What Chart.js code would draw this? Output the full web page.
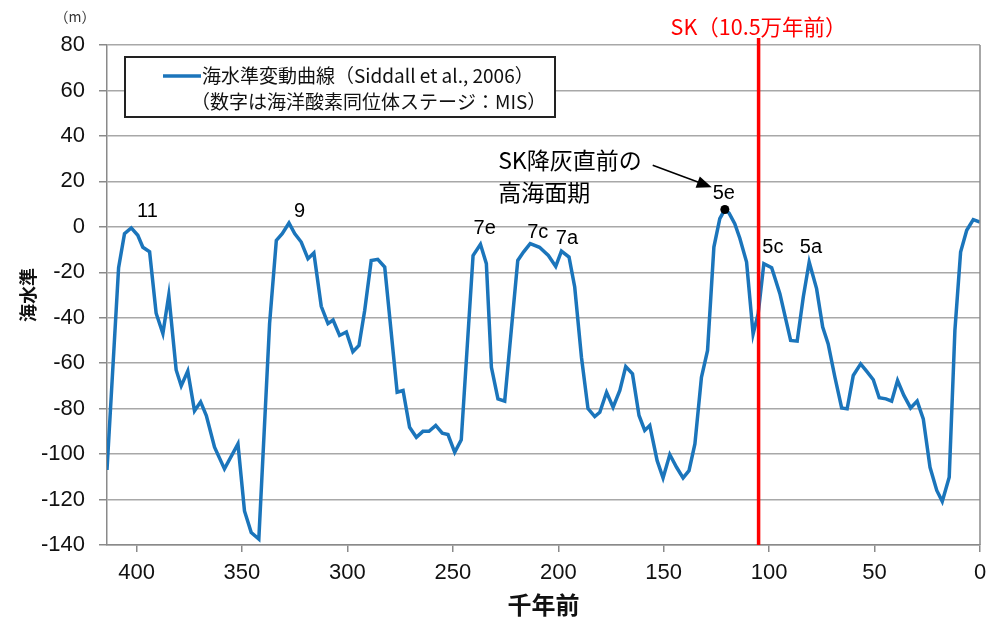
<!DOCTYPE html>
<html>
<head>
<meta charset="utf-8">
<script src="https://cdn.jsdelivr.net/npm/chart.js@4.4.1/dist/chart.umd.min.js"></script>
<style>
  html, body { margin: 0; padding: 0; background: #fff; }
  canvas { display: block; }
</style>
</head>
<body>
<canvas id="chart" width="1000" height="621"></canvas>
<script>
// Sea-level curve (Siddall et al., 2006): age in thousand years before present, level in metres
const ages = [
  414, 408.5, 405.7, 402.5, 399.4, 397, 393.8, 390.7, 387.5, 384.7,
  381.2, 378.8, 375.7, 372.5, 369.6, 366.9, 363, 358.3, 351.9, 348.8,
  345.6, 342, 336.9, 333.7, 330.9, 327.7, 325, 321.9, 318.7, 315.9,
  312.4, 309.2, 306.8, 303.7, 300.5, 297.4, 294.5, 291.8, 288.7, 285.6,
  282.3, 276.4, 273.6, 270.5, 267.3, 264.2, 261.3, 258.1, 255, 252.3,
  249.1, 246, 240.4, 236.9, 234.1, 231.7, 228.6, 225.4, 219.2, 216.5,
  213.3, 208.9, 204.7, 201.2, 198.5, 194.9, 192.2, 189, 185.9, 182.7,
  180.3, 177.1, 174, 170.8, 168, 164.8, 161.7, 159, 156.6, 153.1,
  150.3, 147.1, 143.9, 140.8, 138, 135.2, 132.1, 129.2, 126.2, 123.4,
  121, 119, 116.3, 113.9, 110.7, 107.6, 105.2, 102.5, 98.8, 94.9,
  89.8, 86.7, 83.8, 81, 77.5, 74.6, 72, 68.8, 65.6, 63,
  60.1, 56.6, 53.8, 50.6, 47.8, 44.6, 41.9, 39.1, 36.1, 32.9,
  29.8, 26.9, 23.7, 20.5, 17.9, 14.6, 11.9, 9.2, 6.3, 3.2,
  0
];
const levels = [
  -107, -18, -3, -0.5, -3.7, -9, -11, -38, -47, -30,
  -63, -70, -63.5, -81, -77, -83, -97, -106.5, -95.5, -125,
  -134.5, -137.4, -42.6, -6, -3, 1.7, -3, -6.7, -14, -11.5,
  -35, -42.6, -41, -47.8, -46.3, -55, -52.2, -36.8, -14.8, -14.3,
  -17.7, -72.8, -72, -88.2, -92.6, -90, -90, -87.4, -90.8, -91.4,
  -99.2, -93.7, -12.6, -7.7, -16.2, -61.8, -75.7, -76.7, -14.8, -11.1,
  -7.4, -9, -12.6, -17.4, -10.7, -13.3, -26.5, -57.4, -80, -83.5,
  -81.6, -72.8, -79.4, -72, -61.5, -64.7, -83, -89.6, -87.4, -102.9,
  -110.5, -100.2, -105.8, -110.5, -107.3, -95.5, -66.2, -54.4, -8.9, 3.6,
  7.6, 6, 1.4, -5, -15.5, -47.2, -38.2, -16.2, -18, -29.4,
  -50, -50.3, -30.9, -15.5, -27.2, -44.1, -51.5, -66.2, -79.7, -80.1,
  -65.4, -60.3, -63.5, -67.3, -75.2, -75.7, -76.7, -67.6, -74.2, -79.7,
  -76.7, -84.5, -105.8, -116, -120.8, -110.2, -45.6, -11.1, -1.5, 3.2,
  2.1
];

// Axis ticks
const xTickValues = [400, 350, 300, 250, 200, 150, 100, 50, 0];
const yTickValues = [80, 60, 40, 20, 0, -20, -40, -60, -80, -100, -120, -140];

// Marine isotope stage labels and where they sit (age, level)
const stageNames = ['11', '9', '7e', '7c', '7a', '5e', '5c', '5a'];
const stageLabelAges = [394.8, 322.7, 234.9, 209.7, 195.9, 121.5, 98.2, 80.2];
const stageLabelLevels = [6.8, 6.8, -0.7, -2.4, -5, 14.8, -9, -9];

// SK tephra age (thousand years ago) and the high-stand marked just before it
const skAge = 105;
const highStandAge = 121;

const LINE_BLUE = '#1b75bb';
const GRID = '#a8a8a8';
const AXIS = '#8a8a8a';
const JP = '"Noto Sans CJK JP", "Noto Sans", sans-serif';
const NUM = '"Liberation Sans", Arial, sans-serif';

const overlay = {
  id: 'overlay',
  afterDatasetsDraw(chart) {
    const { ctx, chartArea: a, scales: { x, y } } = chart;
    ctx.save();

    // right edge of the plot frame
    ctx.strokeStyle = AXIS;
    ctx.lineWidth = 1.5;
    ctx.beginPath();
    ctx.moveTo(a.right, a.top);
    ctx.lineTo(a.right, a.bottom);
    ctx.stroke();

    // unit label
    ctx.fillStyle = '#333';
    ctx.font = '14px ' + JP;
    ctx.textAlign = 'center';
    ctx.textBaseline = 'middle';
    ctx.fillText('（m）', 75, 17);

    // legend box
    const lx = a.left + 18, ly = a.top + 12, lw = 430, lh = 60;
    ctx.fillStyle = '#fff';
    ctx.fillRect(lx, ly, lw, lh);
    ctx.strokeStyle = '#222';
    ctx.lineWidth = 2;
    ctx.strokeRect(lx, ly, lw, lh);
    ctx.strokeStyle = LINE_BLUE;
    ctx.lineWidth = 3.5;
    ctx.beginPath();
    ctx.moveTo(lx + 38, ly + 19);
    ctx.lineTo(lx + 76, ly + 19);
    ctx.stroke();
    ctx.fillStyle = '#111';
    ctx.font = '19px ' + JP;
    ctx.textAlign = 'left';
    ctx.fillText('海水準変動曲線（Siddall et al., 2006）', lx + 77, ly + 19);
    ctx.fillText('（数字は海洋酸素同位体ステージ：MIS）', lx + 66, ly + 45);

    // stage labels
    ctx.fillStyle = '#000';
    ctx.font = '20px ' + NUM;
    ctx.textAlign = 'center';
    stageNames.forEach((name, i) => {
      ctx.fillText(name, x.getPixelForValue(stageLabelAges[i]), y.getPixelForValue(stageLabelLevels[i]));
    });

    // dot on the last-interglacial high stand
    const hi = ages.indexOf(highStandAge);
    ctx.beginPath();
    ctx.arc(x.getPixelForValue(ages[hi]), y.getPixelForValue(levels[hi]), 4.5, 0, Math.PI * 2);
    ctx.fill();

    // callout text and arrow
    ctx.font = '23px ' + JP;
    ctx.textAlign = 'left';
    ctx.fillText('SK降灰直前の', x.getPixelForValue(228.5), y.getPixelForValue(29.3));
    ctx.fillText('高海面期', x.getPixelForValue(228.5), y.getPixelForValue(15.2));
    const tx0 = x.getPixelForValue(155.2), ty0 = y.getPixelForValue(27.1);
    const tx1 = x.getPixelForValue(127.2), ty1 = y.getPixelForValue(17.4);
    const ang = Math.atan2(ty1 - ty0, tx1 - tx0);
    ctx.strokeStyle = '#000';
    ctx.lineWidth = 1.5;
    ctx.beginPath();
    ctx.moveTo(tx0, ty0);
    ctx.lineTo(tx1 - 12 * Math.cos(ang), ty1 - 12 * Math.sin(ang));
    ctx.stroke();
    ctx.beginPath();
    ctx.moveTo(tx1, ty1);
    ctx.lineTo(tx1 - 15 * Math.cos(ang) + 6 * Math.sin(ang), ty1 - 15 * Math.sin(ang) - 6 * Math.cos(ang));
    ctx.lineTo(tx1 - 15 * Math.cos(ang) - 6 * Math.sin(ang), ty1 - 15 * Math.sin(ang) + 6 * Math.cos(ang));
    ctx.closePath();
    ctx.fill();

    // SK tephra line
    const sx = x.getPixelForValue(skAge);
    ctx.strokeStyle = '#ff0000';
    ctx.lineWidth = 3.5;
    ctx.beginPath();
    ctx.moveTo(sx, a.top - 7);
    ctx.lineTo(sx, a.bottom);
    ctx.stroke();
    ctx.fillStyle = '#ff0000';
    ctx.font = '21.5px ' + JP;
    ctx.textAlign = 'center';
    ctx.fillText('SK（10.5万年前）', sx, 27);

    ctx.restore();
  }
};

new Chart(document.getElementById('chart'), {
  type: 'line',
  data: {
    datasets: [{
      label: '海水準変動曲線（Siddall et al., 2006）',
      data: ages.map((a, i) => ({ x: a, y: levels[i] })),
      borderColor: LINE_BLUE,
      borderWidth: 3.5,
      pointRadius: 0,
      tension: 0,
      fill: false
    }]
  },
  options: {
    responsive: false,
    animation: false,
    layout: { padding: { left: 0, right: 20, top: 45, bottom: 0 } },
    plugins: { legend: { display: false }, tooltip: { enabled: false } },
    scales: {
      x: {
        type: 'linear',
        reverse: true,
        min: 0,
        max: 414,
        afterBuildTicks: s => { s.ticks = xTickValues.map(v => ({ value: v })); },
        afterFit: s => { s.height = 76; },
        grid: { drawOnChartArea: false, drawTicks: true, tickLength: 7, color: AXIS, lineWidth: 1.5 },
        border: { display: true, color: AXIS, width: 1.5 },
        ticks: { font: { family: NUM, size: 22 }, color: '#111', padding: 8, maxRotation: 0 },
        title: { display: true, text: '千年前', font: { family: JP, size: 24, weight: 'bold' }, color: '#111', padding: { top: 0, bottom: 2 } }
      },
      y: {
        min: -140,
        max: 80,
        afterBuildTicks: s => { s.ticks = yTickValues.map(v => ({ value: v })); },
        afterFit: s => { s.width = 107; },
        grid: { color: GRID, lineWidth: 1.5, tickColor: AXIS, tickLength: 8 },
        border: { display: true, color: AXIS, width: 1.5 },
        ticks: { font: { family: NUM, size: 22 }, color: '#111', padding: 14 },
        title: { display: true, text: '海水準', font: { family: JP, size: 18, weight: 'bold' }, color: '#111', padding: { top: 17, bottom: 0 } }
      }
    }
  },
  plugins: [overlay]
});
</script>
</body>
</html>
